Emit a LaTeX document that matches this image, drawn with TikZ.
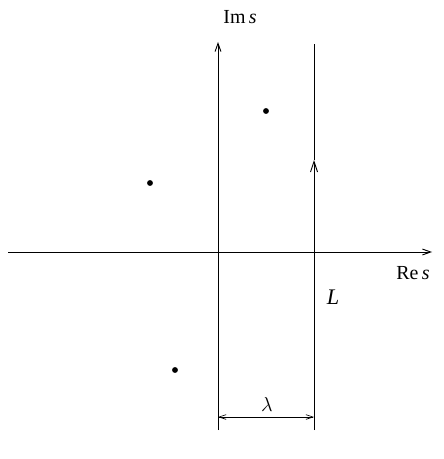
\documentclass[tikz,border=0pt]{standalone}
\usepackage{fontspec}
\setmainfont{Liberation Serif}
\usetikzlibrary{arrows.meta}
\begin{document}
\begin{tikzpicture}[x=0.03cm,y=-0.03cm,
  axis/.style={-{Straight Barb[length=7pt,width=5pt]}, line width=0.8pt},
  dot/.style={circle, fill, inner sep=0pt, minimum size=5pt},
  every node/.style={font=\fontsize{17}{20}\selectfont}]

  \useasboundingbox (0,0) rectangle (443,459);

  % Axes
  \coordinate (re0) at (8,252);   \coordinate (re1) at (432,252);
  \coordinate (im0) at (218,430); \coordinate (im1) at (218,42);
  \draw[axis] (re0) -- (re1);
  \draw[axis] (im0) -- (im1);
  \node (relabel) at (413,273) {Re\,\textit{s}};
  \node (imlabel) at (240,17)  {Im\,\textit{s}};

  % Contour L, pointing upward
  \coordinate (l0) at (314,430); \coordinate (lm) at (314,160); \coordinate (l1) at (314,44);
  \draw[axis, -{Straight Barb[length=9pt,width=6pt]}] (l0) -- (lm);
  \draw[line width=0.8pt] (lm) -- (l1);
  \node (llabel) at (333,297) {\fontsize{19}{22}\selectfont\textit{L}};

  % Poles
  \foreach \x/\y [count=\i] in {266/111, 150/183, 175/370}
    \node[dot] (p\i) at (\x,\y) {};

  % Distance lambda
  \coordinate (w0) at (218,417); \coordinate (w1) at (314,417);
  \draw[{Straight Barb[length=6pt,width=4pt]}-{Straight Barb[length=6pt,width=4pt]}, line width=0.6pt] (w0) -- (w1);
  \node (lam) at (267,404) {\fontsize{19}{22}\selectfont$\lambda$};

\end{tikzpicture}
\end{document}
